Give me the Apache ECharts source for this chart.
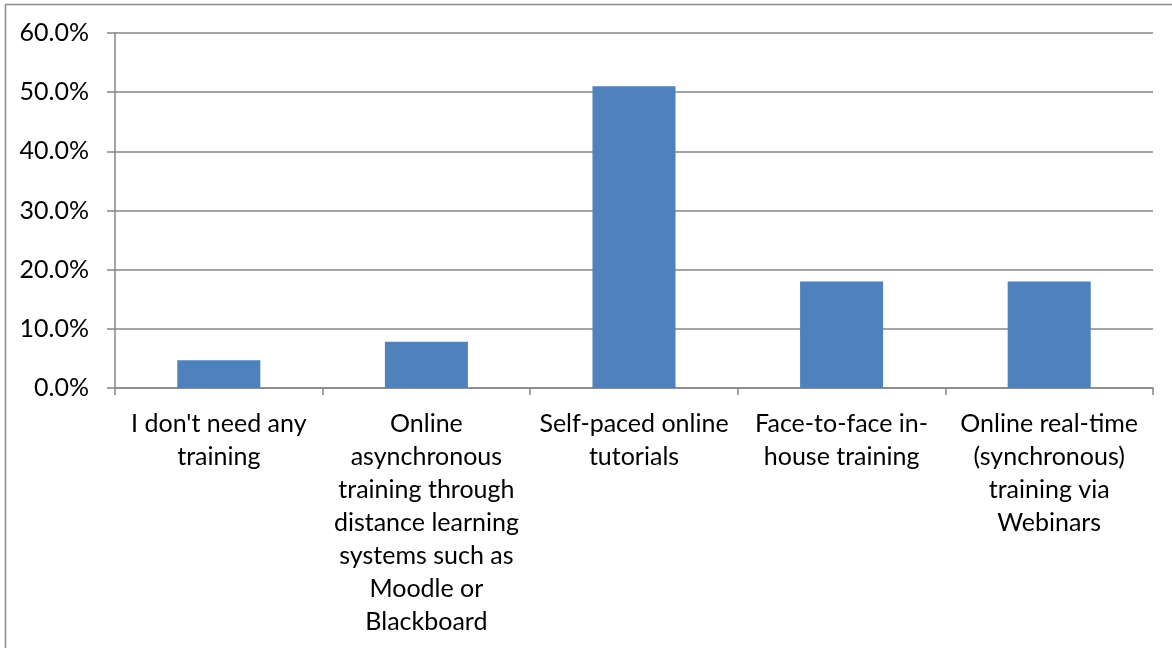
<!DOCTYPE html>
<html>
<head>
<meta charset="utf-8">
<style>
  html, body { margin: 0; padding: 0; background: #fff; }
  #chart { width: 1172px; height: 648px; }
</style>
<script src="https://cdn.jsdelivr.net/npm/echarts@6/dist/echarts.min.js"></script>
</head>
<body>
<div id="chart"></div>
<script>
// survey answers, as share of respondents (%)
var categories = [
  "I don't need any\ntraining",
  "Online\nasynchronous\ntraining through\ndistance learning\nsystems such as\nMoodle or\nBlackboard",
  "Self-paced online\ntutorials",
  "Face-to-face in-\nhouse training",
  "Online real-time\n(synchronous)\ntraining via\nWebinars"
];
var shares = [4.7, 7.8, 51.0, 18.0, 18.0];
var yTicks = [0, 10, 20, 30, 40, 50, 60];

var myChart = echarts.init(document.getElementById('chart'));
var axisGray = '#868686';
var font = 'Lato, "Open Sans", sans-serif';

myChart.setOption({
  animation: false,
  backgroundColor: '#fff',
  graphic: [{
    type: 'rect',
    shape: { x: 5.5, y: 4.5, width: 1200, height: 700 },
    style: { fill: 'none', stroke: '#8c8c8c', lineWidth: 1.5 },
    silent: true
  }],
  grid: { left: 115, right: 19, top: 33, bottom: 260 },
  xAxis: {
    type: 'category',
    data: categories,
    axisLine: { lineStyle: { color: axisGray, width: 1.5 } },
    axisTick: { show: true, length: 7, lineStyle: { color: axisGray, width: 1.5 } },
    axisLabel: {
      interval: 0,
      margin: 19,
      fontFamily: font,
      fontSize: 25,
      lineHeight: 33,
      color: '#000'
    }
  },
  yAxis: {
    type: 'value',
    min: yTicks[0],
    max: yTicks[yTicks.length - 1],
    interval: 10,
    axisLine: { show: true, lineStyle: { color: axisGray, width: 1.5 } },
    axisTick: { show: true, length: 8, lineStyle: { color: axisGray, width: 1.5 } },
    splitLine: { lineStyle: { color: axisGray, width: 1.5 } },
    axisLabel: {
      margin: 26,
      fontFamily: font,
      fontSize: 25,
      color: '#000',
      formatter: function (v) { return v.toFixed(1) + '%'; }
    }
  },
  series: [{
    type: 'bar',
    data: shares,
    barWidth: '40%',
    itemStyle: { color: '#4F81BD' }
  }]
});
</script>
</body>
</html>
